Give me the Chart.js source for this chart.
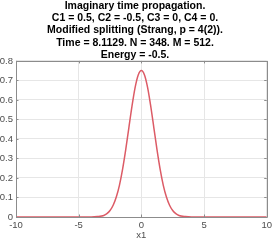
<!DOCTYPE html>
<html><head><meta charset="utf-8">
<script src="https://cdn.jsdelivr.net/npm/chart.js@4/dist/chart.umd.min.js"></script>
<style>html,body{margin:0;padding:0;background:#fff}#w{width:275px;height:241px}</style>
</head><body><div id="w"><canvas id="c"></canvas></div>
<script>
const titleLines = ["Imaginary time propagation.","C1 = 0.5, C2 = -0.5, C3 = 0, C4 = 0.","Modified splitting (Strang, p = 4(2)).","Time = 8.1129. N = 348. M = 512.","Energy = -0.5."];
const xLabel = "x1";
const xValues = [-10,-7,-5,-4.5,-4,-3.5,-3,-2.75,-2.5,-2.25,-2,-1.75,-1.5,-1.25,-1,-0.75,-0.5,-0.25,0,0.25,0.5,0.75,1,1.25,1.5,1.75,2,2.25,2.5,2.75,3,3.5,4,4.5,5,7,10];
const yValues = [0,0,0,0,0,0.002,0.008,0.017,0.033,0.060,0.102,0.162,0.244,0.344,0.456,0.567,0.663,0.728,0.751,0.728,0.663,0.567,0.456,0.344,0.244,0.162,0.102,0.060,0.033,0.017,0.008,0.002,0,0,0,0,0];
const xTicks = [-10,-5,0,5,10];
const yTicks = [0,0.1,0.2,0.3,0.4,0.5,0.6,0.7,0.8];

const boxPlugin = {
  id:'box',
  afterDraw(chart){
    const {ctx, chartArea:a, scales:{x,y}} = chart;
    ctx.save();
    ctx.strokeStyle='#8c8c8c'; ctx.lineWidth=1;
    ctx.beginPath();
    ctx.rect(Math.round(a.left)+0.5, Math.round(a.top)+0.5, Math.round(a.right-a.left), Math.round(a.bottom-a.top));
    ctx.stroke();
    ctx.beginPath();
    xTicks.forEach(v=>{const px=Math.round(x.getPixelForValue(v))+0.5;ctx.moveTo(px,a.bottom);ctx.lineTo(px,a.bottom-2.5);ctx.moveTo(px,a.top);ctx.lineTo(px,a.top+2.5);});
    yTicks.forEach(v=>{const py=Math.round(y.getPixelForValue(v))+0.5;ctx.moveTo(a.left,py);ctx.lineTo(a.left+2.5,py);ctx.moveTo(a.right,py);ctx.lineTo(a.right-2.5,py);});
    ctx.stroke();
    ctx.restore();
  }
};

new Chart(document.getElementById('c'), {
  type:'line',
  data:{datasets:[{data:xValues.map((v,i)=>({x:v,y:yValues[i]})),borderColor:'#dc5b66',borderWidth:1.5,pointRadius:0,tension:0.4,cubicInterpolationMode:'monotone',fill:false}]},
  options:{
    responsive:true, maintainAspectRatio:false, animation:false,
    layout:{padding:{left:0,right:5,top:0,bottom:0}},
    plugins:{legend:{display:false},tooltip:{enabled:false},
      title:{display:true,text:titleLines,color:'#000000',font:{family:'Liberation Sans, Arial, sans-serif',size:10.5,weight:'bold',lineHeight:1.16},padding:{top:0,bottom:0}}},
    scales:{
      x:{type:'linear',min:-10,max:10,
        afterBuildTicks(s){s.ticks=xTicks.map(v=>({value:v}));},
        afterFit(s){s.height=24;},
        grid:{color:'#e6e6e6',drawTicks:false},border:{display:false},
        ticks:{color:'#4d4d4d',padding:3,font:{family:'Liberation Sans, Arial, sans-serif',size:9.5},maxRotation:0},
        title:{display:true,text:xLabel,color:'#4d4d4d',padding:{top:1,bottom:0},font:{family:'Liberation Sans, Arial, sans-serif',size:9.5}}},
      y:{min:0,max:0.8,
        afterBuildTicks(s){s.ticks=yTicks.map(v=>({value:v}));},
        afterFit(s){s.width=16;},
        grid:{color:'#e6e6e6',drawTicks:false},border:{display:false},
        ticks:{color:'#4d4d4d',padding:3,font:{family:'Liberation Sans, Arial, sans-serif',size:9.5},callback:v=>String(Math.round(v*10)/10)}}
    }
  },
  plugins:[boxPlugin]
});
</script></body></html>
